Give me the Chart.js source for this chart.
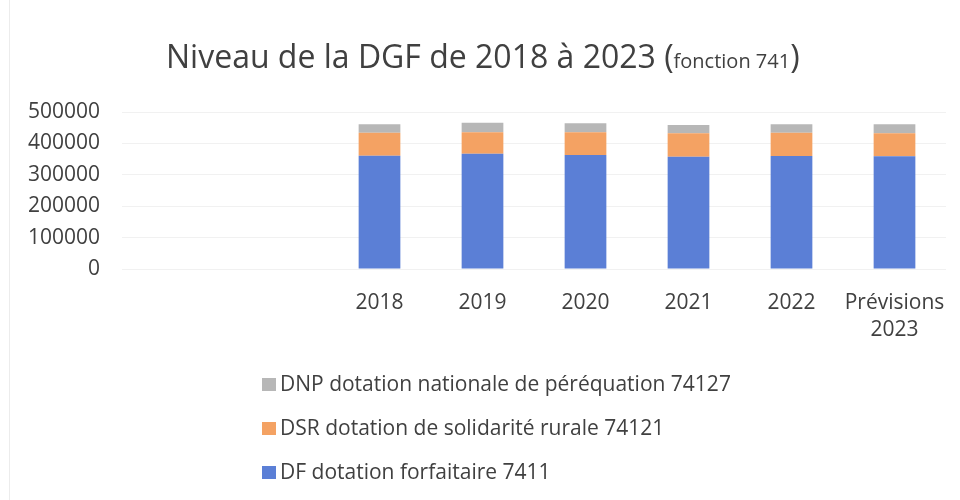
<!DOCTYPE html>
<html lang="fr">
<head>
<meta charset="utf-8">
<title>Niveau de la DGF de 2018 à 2023</title>
<script src="https://cdn.jsdelivr.net/npm/chart.js@4.4.1/dist/chart.umd.min.js"></script>
<style>
  html, body { margin: 0; padding: 0; background: #fff; }
  #wrap { position: relative; width: 960px; height: 500px; overflow: hidden; font-family: "Open Sans", sans-serif; color: #404040; }
  #frame { position: absolute; left: 9px; top: 0; width: 0; height: 500px; border-left: 1px solid #ececec; }
  #chart { position: absolute; left: 0; top: 0; }
  #title { position: absolute; left: 166px; top: 40px; font-size: 32px; line-height: 1; white-space: nowrap; }
  #title small { font-size: 20px; }
  #legend { position: absolute; left: 262px; top: 361px; font-size: 21px; }
  #legend div { height: 44px; line-height: 44px; white-space: nowrap; }
  #legend span.box { display: inline-block; width: 14px; height: 13px; margin-right: 4px; }
</style>
</head>
<body>
<div id="wrap">
  <div id="frame"></div>
  <canvas id="chart" width="960" height="500"></canvas>
  <div id="title">Niveau de la DGF de 2018 à 2023 (<small>fonction 741</small>)</div>
  <div id="legend"></div>
</div>
<script>
// categories (the first two rows of the source table are empty)
const categories = ["", "", "2018", "2019", "2020", "2021", "2022", ["Prévisions", "2023"]];

// values in euros
const dfValues  = [null, null, 360900, 367200, 363100, 357700, 359900, 358900];
const dsrValues = [null, null, 73200, 68200, 72300, 74500, 74200, 73300];
const dnpValues = [null, null, 26800, 30600, 28700, 26400, 26800, 28700];

const seriesNames = [
    "DF dotation forfaitaire 7411",
    "DSR dotation de solidarité rurale 74121",
    "DNP dotation nationale de péréquation 74127"
];
const seriesColors = ["#5b7fd6", "#f4a263", "#b7b7b7"];

const yTicks = [0, 100000, 200000, 300000, 400000, 500000];

const textColor = "#404040";
const tickFont = { family: "'Open Sans', sans-serif", size: 21, lineHeight: 1.3 };

const chart = new Chart(document.getElementById("chart"), {
    type: "bar",
    data: {
        labels: categories,
        datasets: [
            { label: seriesNames[0], data: dfValues, backgroundColor: seriesColors[0] },
            { label: seriesNames[1], data: dsrValues, backgroundColor: seriesColors[1] },
            { label: seriesNames[2], data: dnpValues, backgroundColor: seriesColors[2] }
        ]
    },
    options: {
        responsive: false,
        animation: false,
        layout: {
            padding: { top: 112, right: 14, bottom: 0, left: 0 }
        },
        datasets: {
            bar: {
                categoryPercentage: 1,
                barPercentage: 0.405
            }
        },
        plugins: {
            legend: { display: false },
            title: { display: false },
            tooltip: { enabled: false }
        },
        scales: {
            x: {
                stacked: true,
                grid: { display: false },
                border: { display: false },
                ticks: {
                    color: textColor,
                    font: tickFont,
                    padding: 12,
                    maxRotation: 0,
                    autoSkip: false
                },
                afterFit: (scale) => { scale.height = 231; }
            },
            y: {
                stacked: true,
                min: 0,
                max: 500000,
                grid: { color: "#f1f1f1", drawTicks: false },
                border: { display: false },
                ticks: {
                    color: textColor,
                    font: tickFont,
                    padding: 22,
                    callback: (v) => String(v)
                },
                afterBuildTicks: (scale) => {
                    scale.ticks = yTicks.map(v => ({ value: v }));
                },
                afterFit: (scale) => { scale.width = 122; }
            }
        }
    }
});

// legend, listed top to bottom like the stacking (DNP on top)
const legendEl = document.getElementById("legend");
chart.data.datasets.slice().reverse().forEach(ds => {
    const row = document.createElement("div");
    const box = document.createElement("span");
    box.className = "box";
    box.style.background = ds.backgroundColor;
    row.appendChild(box);
    row.appendChild(document.createTextNode(ds.label));
    legendEl.appendChild(row);
});
</script>
</body>
</html>
